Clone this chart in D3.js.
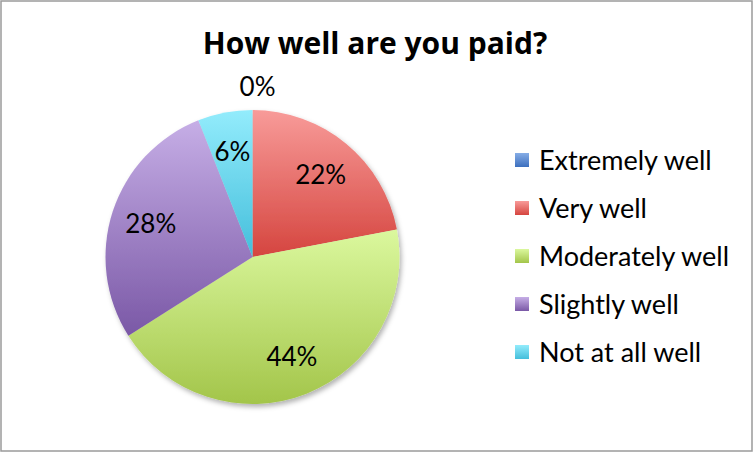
<!DOCTYPE html>
<html>
<head>
<meta charset="utf-8">
<script src="https://cdn.jsdelivr.net/npm/d3@7"></script>
<style>
  body { margin: 0; background: #fff; }
  text { font-family: Lato, "Open Sans", sans-serif; }
</style>
</head>
<body>
<svg width="754" height="453"></svg>
<script>
// data
const categories = ["Extremely well", "Very well", "Moderately well", "Slightly well", "Not at all well"];
const shares = [0, 22, 44, 28, 6];
const topColors = ["#86ade6", "#f89b99", "#dbf89e", "#c6aee6", "#93ecfc"];
const bottomColors = ["#3c6fbe", "#d5453f", "#a3c54a", "#7a58a6", "#44bedb"];

function draw() {
  const svg = d3.select("svg");
  const width = +svg.attr("width");
  const height = +svg.attr("height");

  const cx = 252.5;
  const cy = 257;
  const radius = 147;

  const defs = svg.append("defs");

  categories.forEach((c, i) => {
    const grad = defs.append("linearGradient")
      .attr("id", "grad" + i)
      .attr("x1", 0).attr("y1", 0)
      .attr("x2", 0).attr("y2", 1);
    grad.append("stop").attr("offset", "0%").attr("stop-color", topColors[i]);
    grad.append("stop").attr("offset", "100%").attr("stop-color", bottomColors[i]);
  });

  const shadow = defs.append("filter")
    .attr("id", "shadow")
    .attr("x", "-10%").attr("y", "-10%")
    .attr("width", "130%").attr("height", "130%");
  shadow.append("feDropShadow")
    .attr("dx", 2).attr("dy", 3)
    .attr("stdDeviation", 2.5)
    .attr("flood-color", "#000")
    .attr("flood-opacity", 0.3);

  // chart frame
  svg.append("rect")
    .attr("x", 1).attr("y", 1)
    .attr("width", width - 3).attr("height", height - 3)
    .attr("fill", "#fff")
    .attr("stroke", "#9a9a9a")
    .attr("stroke-width", 1.5);

  svg.append("text")
    .attr("x", 375)
    .attr("y", 54)
    .attr("text-anchor", "middle")
    .style("font-family", "'Open Sans', Lato, sans-serif")
    .attr("font-size", 30)
    .attr("font-weight", "bold")
    .attr("fill", "#000")
    .text("How well are you paid?");

  const pie = d3.pie().sort(null).value(d => d)(shares);
  const arc = d3.arc().innerRadius(0).outerRadius(radius);
  const labelArc = d3.arc().innerRadius(107).outerRadius(107);
  const outsideArc = d3.arc().innerRadius(170).outerRadius(170);

  const g = svg.append("g")
    .attr("transform", `translate(${cx},${cy})`);

  g.append("g")
    .attr("filter", "url(#shadow)")
    .selectAll("path")
    .data(pie)
    .join("path")
    .attr("d", arc)
    .attr("fill", (d, i) => `url(#grad${i})`);

  g.selectAll(".lbl")
    .data(pie)
    .join("text")
    .attr("class", "lbl")
    .attr("transform", d => {
      const p = d.value === 0 ? outsideArc.centroid(d) : labelArc.centroid(d);
      return `translate(${p[0] + (d.value === 0 ? 5 : 0)},${p[1]})`;
    })
    .attr("text-anchor", "middle")
    .attr("dy", "0.36em")
    .attr("font-size", 26)
    .attr("fill", "#000")
    .text(d => d.value + "%");

  // legend
  const legend = svg.append("g")
    .attr("transform", "translate(515,153)");

  const rows = legend.selectAll("g")
    .data(categories)
    .join("g")
    .attr("transform", (d, i) => `translate(0,${i * 48})`);

  rows.append("rect")
    .attr("width", 14).attr("height", 14)
    .attr("fill", (d, i) => `url(#grad${i})`);

  rows.append("text")
    .attr("x", 24)
    .attr("y", 7)
    .attr("dy", "0.36em")
    .attr("font-size", 27)
    .attr("fill", "#000")
    .text(d => d);
}

window.onload = draw;
</script>
</body>
</html>
